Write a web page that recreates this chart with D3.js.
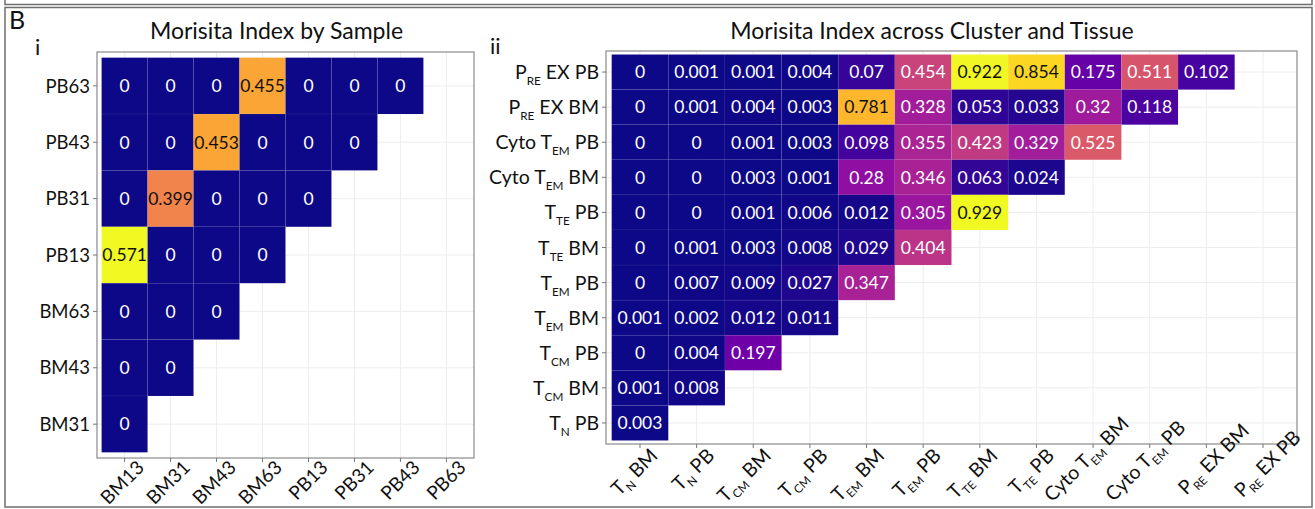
<!DOCTYPE html>
<html><head><meta charset="utf-8">
<script src="https://cdn.jsdelivr.net/npm/d3@7"></script>
<style>
body{margin:0;background:#fff;}
svg{display:block;font-family:Lato,"Open Sans",sans-serif;}
</style>
</head><body>
<svg id="chart" width="1315" height="509"></svg>
<script>
// ---------- DATA ----------
const sampleCols = ["BM13","BM31","BM43","BM63","PB13","PB31","PB43","PB63"];
const sampleRows = ["PB63","PB43","PB31","PB13","BM63","BM43","BM31"];
const sampleValues = [
  [0,0,0,0.455,0,0,0],
  [0,0,0.453,0,0,0],
  [0,0.399,0,0,0],
  [0.571,0,0,0],
  [0,0,0],
  [0,0],
  [0]
];

const clusterCols = ["T{N} BM","T{N} PB","T{CM} BM","T{CM} PB","T{EM} BM","T{EM} PB",
  "T{TE} BM","T{TE} PB","Cyto T{EM} BM","Cyto T{EM} PB","P{RE} EX BM","P{RE} EX PB"];
const clusterRows = ["P{RE} EX PB","P{RE} EX BM","Cyto T{EM} PB","Cyto T{EM} BM","T{TE} PB",
  "T{TE} BM","T{EM} PB","T{EM} BM","T{CM} PB","T{CM} BM","T{N} PB"];
const clusterValues = [
  [0,0.001,0.001,0.004,0.07,0.454,0.922,0.854,0.175,0.511,0.102],
  [0,0.001,0.004,0.003,0.781,0.328,0.053,0.033,0.32,0.118],
  [0,0,0.001,0.003,0.098,0.355,0.423,0.329,0.525],
  [0,0,0.003,0.001,0.28,0.346,0.063,0.024],
  [0,0,0.001,0.006,0.012,0.305,0.929],
  [0,0.001,0.003,0.008,0.029,0.404],
  [0,0.007,0.009,0.027,0.347],
  [0.001,0.002,0.012,0.011],
  [0,0.004,0.197],
  [0.001,0.008],
  [0.003]
];

const titles = ["Morisita Index by Sample","Morisita Index across Cluster and Tissue"];
const panelTags = ["B","i","ii"];

// ---------- DRAW ----------
const svg = d3.select("#chart");

const frame = svg.append("g").attr("stroke","#6e6e6e").attr("stroke-width",1.5).attr("fill","none");
frame.append("path").attr("d","M5,0V4.5H1312V0");
frame.append("rect").attr("x",5).attr("y",7.5).attr("width",1307).attr("height",499.5);

svg.append("text").attr("x",9).attr("y",29).attr("font-size",25).attr("fill","#111").text(panelTags[0]);
svg.append("text").attr("x",35).attr("y",55).attr("font-size",22).attr("fill","#111").text(panelTags[1]);
svg.append("text").attr("x",490).attr("y",54).attr("font-size",22).attr("fill","#111").text(panelTags[2]);

function parseLabel(s){
  const m = s.match(/^(.*?)\{(.*?)\}(.*)$/);
  if(!m) return [s,null,""];
  return [m[1],m[2],m[3]];
}
function writeLabel(sel, s, subSize, subShift){
  const [a,b,c] = parseLabel(s);
  sel.text(null);
  sel.append("tspan").text(a);
  if(b!==null){
    sel.append("tspan").attr("font-size",subSize).attr("dy",subShift).text(b);
    sel.append("tspan").attr("dy",-subShift).text(c);
  }
}

function heatmap(opt){
  const {cols,rows,values,L,R,T,B,labelSize,xLabelSize,cellSize,titleX,title,xNudge,xOff} = opt;
  const g = svg.append("g");
  const x = d3.scaleBand().domain(cols).range([L,R]).paddingInner(0).paddingOuter(0.1);
  const y = d3.scaleBand().domain(rows).range([T,B]).paddingInner(0).paddingOuter(0.1);
  const vmax = d3.max(values.flat());
  const color = d3.scaleSequential(d3.interpolatePlasma).domain([0,vmax]);

  g.append("g").selectAll("line").data(cols).join("line")
    .attr("x1",d=>x(d)+x.bandwidth()/2).attr("x2",d=>x(d)+x.bandwidth()/2)
    .attr("y1",T).attr("y2",B).attr("stroke","#ededed").attr("stroke-width",1);
  g.append("g").selectAll("line").data(rows).join("line")
    .attr("y1",d=>y(d)+y.bandwidth()/2).attr("y2",d=>y(d)+y.bandwidth()/2)
    .attr("x1",L).attr("x2",R).attr("stroke","#ededed").attr("stroke-width",1);

  const cells = [];
  values.forEach((row,i)=>row.forEach((v,j)=>cells.push({r:rows[i],c:cols[j],v})));

  g.append("g").selectAll("rect").data(cells).join("rect")
    .attr("x",d=>x(d.c)).attr("y",d=>y(d.r))
    .attr("width",x.bandwidth()).attr("height",y.bandwidth())
    .attr("fill",d=>color(d.v))
    .attr("stroke","rgba(255,255,255,0.05)").attr("stroke-width",0.8);

  g.append("g").selectAll("text").data(cells).join("text")
    .attr("x",d=>x(d.c)+x.bandwidth()/2).attr("y",d=>y(d.r)+y.bandwidth()/2)
    .attr("dy","0.36em").attr("text-anchor","middle")
    .attr("font-size",cellSize)
    .attr("fill",d=>d.v/vmax>0.6?"#111":"#fff")
    .text(d=>String(d.v));

  g.append("rect").attr("x",L).attr("y",T).attr("width",R-L).attr("height",B-T)
    .attr("fill","none").attr("stroke","#8a8a8a").attr("stroke-width",1.2);

  const ya = g.append("g").attr("transform",`translate(${L},0)`)
    .call(d3.axisLeft(y).tickSize(4).tickPadding(3));
  ya.attr("font-family",null).attr("font-size",null);
  ya.select(".domain").remove();
  ya.selectAll("line").attr("stroke","#777");
  ya.selectAll("text").attr("font-size",labelSize).attr("fill","#111")
    .attr("dy","0.36em")
    .each(function(d){ writeLabel(d3.select(this), d, labelSize*0.6, 6); });

  const xa = g.append("g").attr("transform",`translate(0,${B})`)
    .call(d3.axisBottom(x).tickSize(4).tickPadding(3));
  xa.attr("font-family",null).attr("font-size",null);
  xa.select(".domain").remove();
  xa.selectAll("line").attr("stroke","#777");
  xa.selectAll("text").attr("font-size",xLabelSize).attr("fill","#111")
    .attr("text-anchor","end").attr("x",0).attr("y",0).attr("dy",null)
    .attr("transform",(d,i)=>{
      const n = xNudge[i]||[0,0];
      return `translate(${xOff[0]+n[0]},${xOff[1]+n[1]}) rotate(-45)`;
    })
    .each(function(d){
      const t = d3.select(this);
      writeLabel(t, d, xLabelSize*0.6, 5);
      t.select("tspan").attr("dy","0.72em");
    });

  svg.append("text").attr("x",titleX).attr("y",39).attr("text-anchor","middle")
    .attr("font-size",23).attr("fill","#111").text(title);
}

heatmap({cols:sampleCols,rows:sampleRows,values:sampleValues,
  L:97,R:474,T:52,B:458,labelSize:18.5,xLabelSize:19,cellSize:17.5,titleX:276.5,title:titles[0],
  xNudge:[],xOff:[11,1]});

heatmap({cols:clusterCols,rows:clusterRows,values:clusterValues,
  L:606,R:1297,T:51,B:444,labelSize:19.5,xLabelSize:19.5,cellSize:17.5,titleX:932,title:titles[1],
  xNudge:[null,null,null,null,null,null,null,null,[18,-32],[18,-28],[25,-25],[20,-18]],xOff:[9,3]});
</script>
</body></html>
